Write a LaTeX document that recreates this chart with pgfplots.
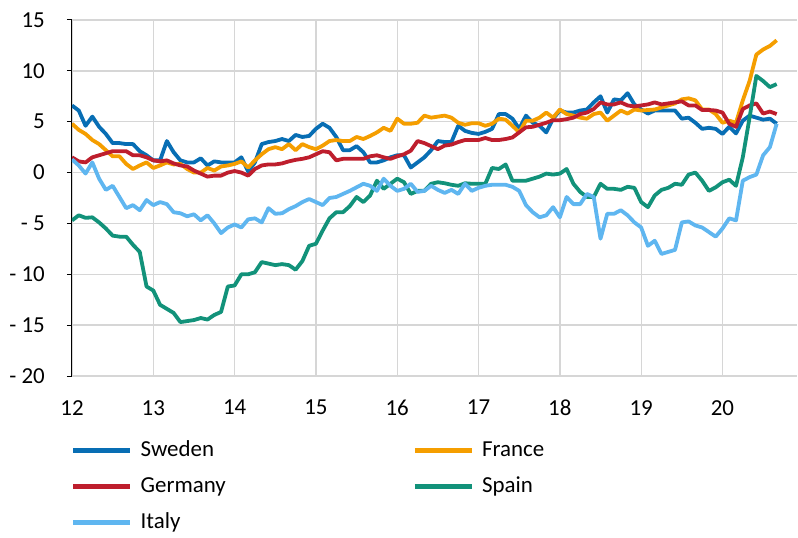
\documentclass[border=0pt]{standalone}
\usepackage{fontspec}
\setmainfont{Carlito}
\usepackage{pgfplots}
\usepackage{pgfplotstable}
\pgfplotsset{compat=1.18}
\definecolor{cse}{RGB}{8,110,180}
\definecolor{cfr}{RGB}{245,158,0}
\definecolor{cde}{RGB}{190,30,45}
\definecolor{ces}{RGB}{18,146,122}
\definecolor{cit}{RGB}{95,182,240}
\definecolor{gridgray}{RGB}{214,214,214}
\pgfplotstableread{
k se fr de es it
0 6.6 4.8 1.5 -4.7 1.3
1 6.1 4.2 1.1 -4.2 0.7
2 4.6 3.8 1.0 -4.45 -0.1
3 5.5 3.2 1.5 -4.4 1.0
4 4.5 2.8 1.7 -4.9 -0.6
5 3.8 2.2 1.9 -5.5 -1.7
6 2.9 1.6 2.1 -6.2 -1.3
7 2.9 1.6 2.1 -6.3 -2.4
8 2.8 0.85 2.1 -6.3 -3.5
9 2.8 0.35 1.7 -7.1 -3.2
10 2.1 0.7 1.7 -7.8 -3.7
11 1.7 1.0 1.5 -11.2 -2.7
12 1.2 0.45 1.2 -11.6 -3.2
13 1.2 0.7 1.1 -13.0 -2.9
14 3.1 1.0 1.2 -13.4 -3.1
15 2.0 0.8 0.9 -13.8 -3.9
16 1.2 0.85 0.7 -14.7 -4.0
17 1.0 0.35 0.6 -14.6 -4.3
18 1.0 0.0 0.2 -14.5 -4.1
19 1.4 0.0 -0.1 -14.3 -4.7
20 0.7 0.45 -0.4 -14.45 -4.2
21 1.1 0.2 -0.3 -14.0 -5.0
22 1.0 0.6 -0.3 -13.7 -5.95
23 1.0 0.7 0.0 -11.2 -5.4
24 1.0 0.85 0.15 -11.1 -5.1
25 1.5 1.1 0.0 -10.0 -5.4
26 0.1 0.5 -0.3 -10.0 -4.6
27 1.0 1.2 0.35 -9.8 -4.5
28 2.8 1.8 0.7 -8.8 -4.9
29 3.0 2.3 0.8 -8.95 -3.5
30 3.1 2.5 0.8 -9.1 -4.05
31 3.3 2.3 0.9 -9.0 -4.0
32 3.1 2.8 1.1 -9.1 -3.6
33 3.7 2.2 1.25 -9.55 -3.3
34 3.5 2.8 1.35 -8.7 -2.9
35 3.6 2.5 1.5 -7.2 -2.6
36 4.3 2.3 1.8 -7.0 -2.9
37 4.8 2.65 2.1 -5.7 -3.2
38 4.4 3.1 2.0 -4.5 -2.5
39 3.5 3.2 1.2 -3.9 -2.4
40 2.2 3.1 1.35 -3.9 -2.1
41 2.2 3.1 1.35 -3.3 -1.8
42 2.6 3.5 1.35 -2.4 -1.45
43 2.0 3.3 1.35 -2.9 -1.1
44 1.0 3.6 1.6 -2.25 -1.3
45 1.0 3.95 1.7 -0.8 -1.8
46 1.2 4.4 1.5 -1.6 -0.6
47 1.5 4.1 1.35 -1.1 -1.3
48 1.7 5.3 1.6 -0.6 -1.8
49 1.7 4.8 1.8 -0.95 -1.6
50 0.5 4.8 2.15 -2.1 -1.1
51 1.0 4.9 3.1 -1.8 -1.9
52 1.5 5.6 2.9 -1.8 -1.8
53 2.2 5.4 2.6 -1.1 -1.3
54 3.1 5.5 2.3 -0.95 -1.7
55 3.0 5.6 2.65 -1.05 -2.0
56 3.0 5.4 2.75 -1.2 -1.7
57 4.6 4.9 3.0 -1.3 -2.1
58 4.1 4.7 3.2 -1.05 -1.1
59 3.9 4.85 3.2 -1.1 -1.8
60 3.8 4.85 3.2 -1.1 -1.5
61 4.0 4.6 3.4 -1.1 -1.3
62 4.3 4.8 3.2 0.45 -1.2
63 5.75 5.3 3.2 0.35 -1.2
64 5.75 5.2 3.3 0.8 -1.2
65 5.3 4.6 3.45 -0.8 -1.4
66 4.3 3.95 3.95 -0.8 -1.8
67 5.6 5.1 4.45 -0.8 -3.2
68 4.9 5.1 4.5 -0.6 -3.9
69 4.6 5.4 4.7 -0.4 -4.4
70 3.95 5.9 4.9 -0.1 -4.2
71 5.3 5.4 5.15 -0.2 -3.4
72 6.1 6.2 5.15 -0.1 -4.4
73 5.9 5.75 5.25 0.35 -2.4
74 5.9 5.6 5.4 -1.1 -3.1
75 6.1 5.4 5.75 -1.9 -3.1
76 6.2 5.3 5.9 -2.4 -2.1
77 6.9 5.75 6.25 -2.4 -2.4
78 7.5 5.9 6.9 -1.1 -6.5
79 5.9 5.1 6.7 -1.6 -4.05
80 7.2 5.6 6.7 -1.6 -4.05
81 7.1 6.1 6.9 -1.7 -3.7
82 7.8 5.8 6.6 -1.4 -4.2
83 6.7 6.2 6.5 -1.5 -4.9
84 6.2 6.1 6.6 -2.9 -5.4
85 5.8 6.15 6.7 -3.4 -7.2
86 6.1 6.2 6.9 -2.25 -6.7
87 6.1 6.4 6.7 -1.7 -8.0
88 6.1 6.6 6.8 -1.5 -7.8
89 6.1 6.8 6.9 -1.1 -7.6
90 5.3 7.2 7.0 -1.2 -4.9
91 5.4 7.3 6.6 -0.2 -4.8
92 4.9 7.1 6.6 0.0 -5.2
93 4.3 6.2 6.15 -0.8 -5.4
94 4.4 6.2 6.15 -1.8 -5.85
95 4.3 5.75 6.1 -1.45 -6.3
96 3.8 4.9 5.9 -0.95 -5.5
97 4.5 5.1 4.8 -0.7 -4.5
98 3.85 4.9 4.5 -1.3 -4.7
99 5.1 7.1 6.25 1.5 -0.8
100 5.6 9.0 6.6 5.4 -0.45
101 5.4 11.6 6.8 9.5 -0.2
102 5.2 12.1 5.8 9.0 1.7
103 5.3 12.45 6.0 8.4 2.5
104 4.8 13.0 5.75 8.7 4.8
}\data
\begin{document}
\begin{tikzpicture}
\begin{axis}[
  at={(0,0)}, anchor=south west,
  scale only axis, width=725bp, height=356bp,
  xmin=0, xmax=107, ymin=-20, ymax=15,
  xtick={0,12,...,96}, xticklabels={12,13,14,15,16,17,18,19,20},
  ytick={-20,-15,...,15}, yticklabels={- 20,- 15,- 10,- 5,0,5,10,15},
  axis x line*=bottom, axis y line*=left,
  x axis line style={draw=none},
  y axis line style={black, line width=1bp, -},
  xmajorgrids, ymajorgrids,
  grid style={color=gridgray, line width=1.3bp},
  tick align=outside, major tick length=5bp,
  xtick style={draw=none}, ytick style={black, line width=1bp},
  tick label style={font=\fontsize{23}{27}\selectfont, inner sep=0pt},
  yticklabel shift=22bp, xticklabel shift=19bp,
  legend columns=2,
  legend cell align=left,
  legend style={at={(0,0)}, anchor=north west, xshift=-4bp, yshift=-63bp,
    draw=none, fill=none, font=\fontsize{23}{27}\selectfont,
    column sep=8bp, row sep=17bp,
    nodes={inner sep=0pt, text height=15bp, text depth=4bp}},
  legend image code/.code={\draw[#1, line width=4.5bp] (0bp,0bp) -- (57bp,0bp);},
  every axis plot/.append style={line width=3.8bp, line join=round},
]
\addplot[cse, no marks] table[x=k, y=se] {\data};
\addlegendentry{\makebox[264bp][l]{Sweden}}
\addplot[cfr, no marks] table[x=k, y=fr] {\data};
\addlegendentry{France}
\addplot[cde, no marks] table[x=k, y=de] {\data};
\addlegendentry{\makebox[264bp][l]{Germany}}
\addplot[ces, no marks] table[x=k, y=es] {\data};
\addlegendentry{Spain}
\addplot[cit, no marks] table[x=k, y=it] {\data};
\addlegendentry{\makebox[264bp][l]{Italy}}
\end{axis}
\pgfresetboundingbox
\path (-72bp,-162bp) rectangle (726bp,376bp);
\end{tikzpicture}
\end{document}
